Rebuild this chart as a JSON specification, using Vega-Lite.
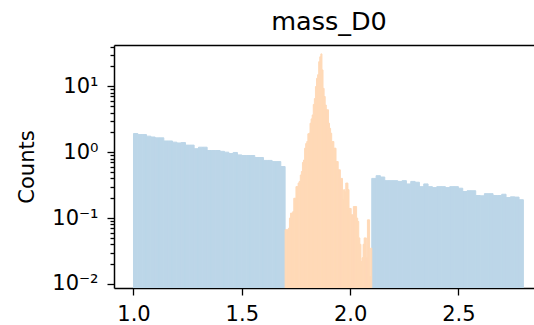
{
  "$schema": "https://vega.github.io/schema/vega-lite/v6.json",
  "autosize": {"type": "none"},
  "padding": {"left": 114, "top": 45, "right": 0, "bottom": 37},
  "width": 420,
  "height": 243,
  "title": {"text": "mass_D0", "fontSize": 25.5, "font": "DejaVu Sans", "fontWeight": "normal", "color": "black", "baseline": "alphabetic", "offset": -19.5, "anchor": "middle", "dx": 5},
  "datasets": {
    "side": [
      {"lo": 1.00, "hi": 1.02, "n": 1.92}, {"lo": 1.02, "hi": 1.04, "n": 1.85}, {"lo": 1.04, "hi": 1.06, "n": 1.85},
      {"lo": 1.06, "hi": 1.08, "n": 1.75}, {"lo": 1.08, "hi": 1.10, "n": 1.70}, {"lo": 1.10, "hi": 1.12, "n": 1.65},
      {"lo": 1.12, "hi": 1.14, "n": 1.65}, {"lo": 1.14, "hi": 1.16, "n": 1.48}, {"lo": 1.16, "hi": 1.18, "n": 1.48},
      {"lo": 1.18, "hi": 1.20, "n": 1.42}, {"lo": 1.20, "hi": 1.22, "n": 1.38}, {"lo": 1.22, "hi": 1.24, "n": 1.40},
      {"lo": 1.24, "hi": 1.26, "n": 1.28}, {"lo": 1.26, "hi": 1.28, "n": 1.28}, {"lo": 1.28, "hi": 1.30, "n": 1.13},
      {"lo": 1.30, "hi": 1.32, "n": 1.19}, {"lo": 1.32, "hi": 1.34, "n": 1.19}, {"lo": 1.34, "hi": 1.36, "n": 1.06},
      {"lo": 1.36, "hi": 1.38, "n": 1.06}, {"lo": 1.38, "hi": 1.40, "n": 1.06}, {"lo": 1.40, "hi": 1.42, "n": 1.03},
      {"lo": 1.42, "hi": 1.44, "n": 1.00}, {"lo": 1.44, "hi": 1.46, "n": 0.955}, {"lo": 1.46, "hi": 1.48, "n": 0.99},
      {"lo": 1.48, "hi": 1.50, "n": 0.91}, {"lo": 1.50, "hi": 1.52, "n": 0.89}, {"lo": 1.52, "hi": 1.54, "n": 0.89},
      {"lo": 1.54, "hi": 1.56, "n": 0.89}, {"lo": 1.56, "hi": 1.58, "n": 0.83}, {"lo": 1.58, "hi": 1.60, "n": 0.83},
      {"lo": 1.60, "hi": 1.62, "n": 0.75}, {"lo": 1.62, "hi": 1.64, "n": 0.75}, {"lo": 1.64, "hi": 1.66, "n": 0.72},
      {"lo": 1.66, "hi": 1.68, "n": 0.72}, {"lo": 1.68, "hi": 1.70, "n": 0.605},
      {"lo": 2.10, "hi": 2.12, "n": 0.40}, {"lo": 2.12, "hi": 2.14, "n": 0.44}, {"lo": 2.14, "hi": 2.16, "n": 0.42},
      {"lo": 2.16, "hi": 2.18, "n": 0.37}, {"lo": 2.18, "hi": 2.20, "n": 0.37}, {"lo": 2.20, "hi": 2.22, "n": 0.37},
      {"lo": 2.22, "hi": 2.24, "n": 0.36}, {"lo": 2.24, "hi": 2.26, "n": 0.37}, {"lo": 2.26, "hi": 2.28, "n": 0.33},
      {"lo": 2.28, "hi": 2.30, "n": 0.36}, {"lo": 2.30, "hi": 2.32, "n": 0.35}, {"lo": 2.32, "hi": 2.34, "n": 0.30},
      {"lo": 2.34, "hi": 2.36, "n": 0.33}, {"lo": 2.36, "hi": 2.38, "n": 0.30}, {"lo": 2.38, "hi": 2.40, "n": 0.29},
      {"lo": 2.40, "hi": 2.42, "n": 0.30}, {"lo": 2.42, "hi": 2.44, "n": 0.30}, {"lo": 2.44, "hi": 2.46, "n": 0.29},
      {"lo": 2.46, "hi": 2.48, "n": 0.30}, {"lo": 2.48, "hi": 2.50, "n": 0.30}, {"lo": 2.50, "hi": 2.52, "n": 0.284},
      {"lo": 2.52, "hi": 2.54, "n": 0.253}, {"lo": 2.54, "hi": 2.56, "n": 0.26}, {"lo": 2.56, "hi": 2.58, "n": 0.26},
      {"lo": 2.58, "hi": 2.60, "n": 0.22}, {"lo": 2.60, "hi": 2.62, "n": 0.218}, {"lo": 2.62, "hi": 2.64, "n": 0.235},
      {"lo": 2.64, "hi": 2.66, "n": 0.235}, {"lo": 2.66, "hi": 2.68, "n": 0.22}, {"lo": 2.68, "hi": 2.70, "n": 0.22},
      {"lo": 2.70, "hi": 2.72, "n": 0.23}, {"lo": 2.72, "hi": 2.74, "n": 0.205}, {"lo": 2.74, "hi": 2.76, "n": 0.21},
      {"lo": 2.76, "hi": 2.78, "n": 0.208}, {"lo": 2.78, "hi": 2.80, "n": 0.19}
    ],
    "sig": [
      {"lo": 1.700, "hi": 1.705, "n": 0.0665}, {"lo": 1.705, "hi": 1.710, "n": 0.0665}, {"lo": 1.710, "hi": 1.715, "n": 0.0665},
      {"lo": 1.715, "hi": 1.720, "n": 0.07}, {"lo": 1.720, "hi": 1.725, "n": 0.1}, {"lo": 1.725, "hi": 1.730, "n": 0.119},
      {"lo": 1.730, "hi": 1.735, "n": 0.119}, {"lo": 1.735, "hi": 1.740, "n": 0.125}, {"lo": 1.740, "hi": 1.745, "n": 0.2},
      {"lo": 1.745, "hi": 1.750, "n": 0.2}, {"lo": 1.750, "hi": 1.755, "n": 0.3}, {"lo": 1.755, "hi": 1.760, "n": 0.3},
      {"lo": 1.760, "hi": 1.765, "n": 0.34}, {"lo": 1.765, "hi": 1.770, "n": 0.36}, {"lo": 1.770, "hi": 1.775, "n": 0.45},
      {"lo": 1.775, "hi": 1.780, "n": 0.51}, {"lo": 1.780, "hi": 1.785, "n": 0.7}, {"lo": 1.785, "hi": 1.790, "n": 0.76},
      {"lo": 1.790, "hi": 1.795, "n": 1.15}, {"lo": 1.795, "hi": 1.800, "n": 1.35}, {"lo": 1.800, "hi": 1.805, "n": 1.45},
      {"lo": 1.805, "hi": 1.810, "n": 1.9}, {"lo": 1.810, "hi": 1.815, "n": 1.94}, {"lo": 1.815, "hi": 1.820, "n": 2.75},
      {"lo": 1.820, "hi": 1.825, "n": 3.2}, {"lo": 1.825, "hi": 1.830, "n": 3.67}, {"lo": 1.830, "hi": 1.835, "n": 5.3},
      {"lo": 1.835, "hi": 1.840, "n": 6.5}, {"lo": 1.840, "hi": 1.845, "n": 9.9}, {"lo": 1.845, "hi": 1.850, "n": 13.2},
      {"lo": 1.850, "hi": 1.855, "n": 15}, {"lo": 1.855, "hi": 1.860, "n": 23.6}, {"lo": 1.860, "hi": 1.865, "n": 28},
      {"lo": 1.865, "hi": 1.870, "n": 31}, {"lo": 1.870, "hi": 1.875, "n": 17.7}, {"lo": 1.875, "hi": 1.880, "n": 9.3},
      {"lo": 1.880, "hi": 1.885, "n": 7}, {"lo": 1.885, "hi": 1.890, "n": 5.2}, {"lo": 1.890, "hi": 1.895, "n": 4.4},
      {"lo": 1.895, "hi": 1.900, "n": 4.4}, {"lo": 1.900, "hi": 1.905, "n": 2.75}, {"lo": 1.905, "hi": 1.910, "n": 2.3},
      {"lo": 1.910, "hi": 1.915, "n": 1.94}, {"lo": 1.915, "hi": 1.920, "n": 1.45}, {"lo": 1.920, "hi": 1.925, "n": 1.45},
      {"lo": 1.925, "hi": 1.930, "n": 1.15}, {"lo": 1.930, "hi": 1.935, "n": 1.15}, {"lo": 1.935, "hi": 1.940, "n": 0.72},
      {"lo": 1.940, "hi": 1.945, "n": 0.72}, {"lo": 1.945, "hi": 1.950, "n": 0.54}, {"lo": 1.950, "hi": 1.955, "n": 0.54},
      {"lo": 1.955, "hi": 1.960, "n": 0.4}, {"lo": 1.960, "hi": 1.965, "n": 0.4}, {"lo": 1.965, "hi": 1.970, "n": 0.19},
      {"lo": 1.970, "hi": 1.975, "n": 0.27}, {"lo": 1.975, "hi": 1.980, "n": 0.25}, {"lo": 1.980, "hi": 1.985, "n": 0.34},
      {"lo": 1.985, "hi": 1.990, "n": 0.34}, {"lo": 1.990, "hi": 1.995, "n": 0.27}, {"lo": 1.995, "hi": 2.000, "n": 0.14},
      {"lo": 2.000, "hi": 2.005, "n": 0.14}, {"lo": 2.005, "hi": 2.010, "n": 0.112}, {"lo": 2.010, "hi": 2.015, "n": 0.112},
      {"lo": 2.015, "hi": 2.020, "n": 0.15}, {"lo": 2.020, "hi": 2.025, "n": 0.15}, {"lo": 2.025, "hi": 2.030, "n": 0.15},
      {"lo": 2.030, "hi": 2.035, "n": 0.1}, {"lo": 2.035, "hi": 2.040, "n": 0.089}, {"lo": 2.040, "hi": 2.045, "n": 0.05},
      {"lo": 2.045, "hi": 2.050, "n": 0.04}, {"lo": 2.050, "hi": 2.055, "n": 0.022}, {"lo": 2.055, "hi": 2.060, "n": 0.025},
      {"lo": 2.060, "hi": 2.065, "n": 0.04}, {"lo": 2.065, "hi": 2.070, "n": 0.05}, {"lo": 2.070, "hi": 2.075, "n": 0.05},
      {"lo": 2.075, "hi": 2.080, "n": 0.025}, {"lo": 2.080, "hi": 2.085, "n": 0.094}, {"lo": 2.085, "hi": 2.090, "n": 0.094},
      {"lo": 2.090, "hi": 2.095, "n": 0.013}, {"lo": 2.095, "hi": 2.100, "n": 0.035}
    ]
  },
  "encoding": {
    "y": {
      "field": "n", "type": "quantitative",
      "scale": {"type": "log", "domain": [0.00869, 42.3], "nice": false},
      "axis": {
        "title": "Counts",
        "titleFontSize": 21, "titleFontWeight": "normal", "titleFont": "DejaVu Sans",
        "titleX": -80.5, "titleY": 121.5, "titleBaseline": "alphabetic",
        "values": [0.01, 0.02, 0.03, 0.04, 0.05, 0.06, 0.07, 0.08, 0.09, 0.1, 0.2, 0.3, 0.4, 0.5, 0.6, 0.7, 0.8, 0.9, 1, 2, 3, 4, 5, 6, 7, 8, 9, 10, 20, 30, 40],
        "labelExpr": "datum.value == 0.01 ? '10⁻²' : datum.value == 0.1 ? '10⁻¹' : datum.value == 1 ? '10⁰' : datum.value == 10 ? '10¹' : ''",
        "tickSize": {"condition": {"test": "indexof([0.01, 0.1, 1, 10], datum.value) >= 0", "value": 7}, "value": 4},
        "labelPadding": 9,
        "labelFontSize": 21,
        "labelOverlap": false,
        "labelBound": false
      }
    },
    "y2": {"datum": 0.001}
  },
  "layer": [
    {
      "data": {"name": "side"},
      "mark": {"type": "bar", "fill": "#bcd6e8", "stroke": "#bcd6e8", "strokeWidth": 1, "clip": true},
      "encoding": {
        "x": {
          "field": "lo", "type": "quantitative",
          "scale": {"domain": [0.91, 2.849], "nice": false, "zero": false},
          "axis": {"values": [1.0, 1.5, 2.0, 2.5], "format": ".1f", "title": null, "tickSize": 7, "labelPadding": 8, "labelFontSize": 21, "labelFlush": false, "labelOverlap": false}
        },
        "x2": {"field": "hi"}
      }
    },
    {
      "data": {"name": "sig"},
      "mark": {"type": "bar", "fill": "#ffd9b7", "stroke": "#ffd9b7", "strokeWidth": 1, "clip": true},
      "encoding": {
        "x": {
          "field": "lo", "type": "quantitative",
          "scale": {"domain": [0.91, 2.849], "nice": false, "zero": false},
          "axis": {"orient": "top", "labels": false, "ticks": false, "title": null, "domain": true}
        },
        "x2": {"field": "hi"}
      }
    }
  ],
  "resolve": {"axis": {"x": "independent"}},
  "config": {
    "view": {"stroke": null},
    "axis": {
      "grid": false,
      "domainColor": "black", "domainWidth": 1.5,
      "tickColor": "black", "tickWidth": 1.3,
      "labelColor": "black", "titleColor": "black",
      "labelFont": "DejaVu Sans", "titleFont": "DejaVu Sans"
    }
  }
}
